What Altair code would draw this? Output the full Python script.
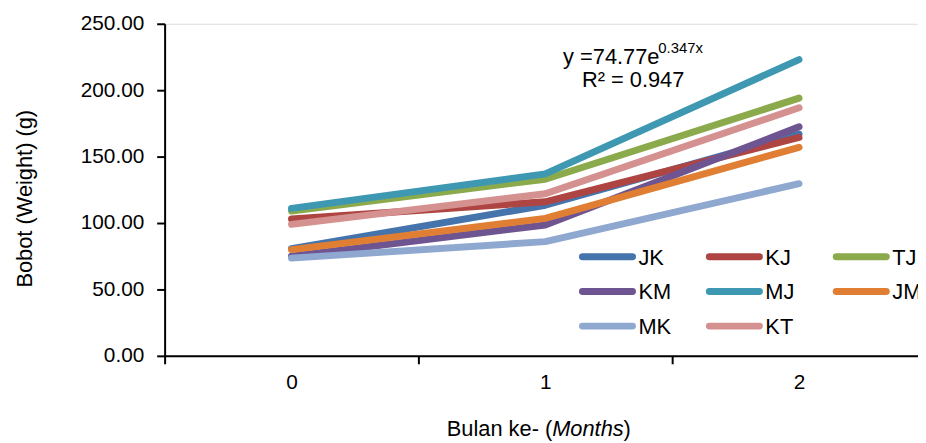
import altair as alt
import pandas as pd

months = [0, 1, 2]
series = ["JK", "KJ", "TJ", "KM", "MJ", "JM", "MK", "KT"]
colors = ["#4573AC", "#AE4542", "#8AAA4C", "#6E5592", "#3F98B1", "#E07F34", "#8FA8CF", "#D49190"]
JK = [80.6, 113.4, 167.0]
KJ = [103.0, 116.0, 164.4]
TJ = [109.0, 133.0, 194.0]
KM = [75.0, 98.5, 172.4]
MJ = [111.0, 137.0, 223.0]
JM = [80.0, 103.5, 157.0]
MK = [73.6, 86.0, 129.6]
KT = [99.0, 122.0, 186.8]
y_ticks = [0, 50, 100, 150, 200, 250]
x_ticks = [-0.5, 0.5, 1.5]

values = {"JK": JK, "KJ": KJ, "TJ": TJ, "KM": KM, "MJ": MJ, "JM": JM, "MK": MK, "KT": KT}
rows = []
for s in series:
    for m, v in zip(months, values[s]):
        rows.append({"series": s, "month": m, "weight": v})
df = pd.DataFrame(rows)

# legend entries: row-major, 3 columns
leg = pd.DataFrame({"series": series,
                    "idx": list(range(len(series)))})

FONT = "Liberation Sans"
W, H = 760, 335
color_scale = alt.Scale(domain=series, range=colors)

lines = alt.Chart(df).mark_line(strokeWidth=7, strokeCap="round", strokeJoin="round").encode(
    x=alt.X("month:Q",
            scale=alt.Scale(domain=[-0.5, 2.46875], nice=False, zero=False),
            axis=alt.Axis(values=x_ticks, labelExpr="format(datum.value + 0.5, 'd')",
                          labelOffset=128, labelFlush=False, labelBound=False,
                          title=None, tickSize=8, tickWidth=2, tickColor="black",
                          domainColor="black", domainWidth=2, grid=False,
                          labelFontSize=21, labelColor="black", labelPadding=8, labelFont=FONT)),
    y=alt.Y("weight:Q",
            scale=alt.Scale(domain=[0, 250], nice=False),
            axis=alt.Axis(values=y_ticks, format=".2f", title="Bobot (Weight) (g)",
                          titleFontSize=22, titleFontWeight="normal", titleColor="black",
                          titleFont=FONT, titleX=-141, titleY=176, titleBaseline="middle",
                          tickSize=8, tickWidth=2, tickColor="black", domainColor="black",
                          domainWidth=2, grid=False, labelFontSize=21, labelColor="black",
                          labelPadding=13, labelFont=FONT)),
    color=alt.Color("series:N", scale=color_scale, legend=None),
)

# manual legend (pixel layout of the legend box, relative to plot area)
leg_base = alt.Chart(leg).transform_calculate(
    col="datum.idx % 3",
    row="floor(datum.idx / 3)",
).transform_calculate(
    sx="421.5 + datum.col * 128",
    sx2="472 + datum.col * 128",
    tx="478 + datum.col * 128",
    sy="235 + datum.row * 35",
)
px_x = alt.Scale(domain=[0, W], range=[0, W], nice=False, zero=False)
px_y = alt.Scale(domain=[0, H], range=[0, H], nice=False, zero=False)

leg_rules = leg_base.mark_rule(strokeWidth=7, strokeCap="round").encode(
    x=alt.X("sx:Q", scale=px_x, axis=None),
    x2="sx2:Q",
    y=alt.Y("sy:Q", scale=px_y, axis=None),
    color=alt.Color("series:N", scale=color_scale, legend=None),
)
leg_text = leg_base.mark_text(align="left", baseline="middle", fontSize=22, font=FONT,
                              color="black", dy=1).encode(
    x=alt.X("tx:Q", scale=px_x, axis=None),
    y=alt.Y("sy:Q", scale=px_y, axis=None),
    text="series:N",
)
legend_layer = alt.layer(leg_rules, leg_text)

eq_main = alt.Chart(pd.DataFrame({"t": ["y =74.77e"]})).mark_text(
    align="left", baseline="alphabetic", fontSize=22, font=FONT, color="black"
).encode(x=alt.value(402), y=alt.value(41), text="t:N")

eq_sup = alt.Chart(pd.DataFrame({"t": ["0.347x"]})).mark_text(
    align="left", baseline="alphabetic", fontSize=15, font=FONT, color="black"
).encode(x=alt.value(498), y=alt.value(29), text="t:N")

eq_r2 = alt.Chart(pd.DataFrame({"t": ["R\u00b2 = 0.947"]})).mark_text(
    align="left", baseline="alphabetic", fontSize=22, font=FONT, color="black"
).encode(x=alt.value(421), y=alt.value(64), text="t:N")

xt1 = alt.Chart(pd.DataFrame({"t": ["Bulan ke- ("]})).mark_text(
    align="right", baseline="alphabetic", fontSize=22, font=FONT, color="black"
).encode(x=alt.value(391), y=alt.value(416), text="t:N")

xt2 = alt.Chart(pd.DataFrame({"t": ["Months"]})).mark_text(
    align="left", baseline="alphabetic", fontSize=22, font=FONT, fontStyle="italic", color="black"
).encode(x=alt.value(391), y=alt.value(416), text="t:N")

xt3 = alt.Chart(pd.DataFrame({"t": [")"]})).mark_text(
    align="left", baseline="alphabetic", fontSize=22, font=FONT, color="black"
).encode(x=alt.value(463), y=alt.value(416), text="t:N")

main = alt.layer(lines, eq_main, eq_sup, eq_r2, xt1, xt2, xt3)

chart = alt.layer(main, legend_layer).resolve_scale(
    x="independent", y="independent"
).properties(
    width=W, height=H,
    autosize=alt.AutoSizeParams(type="none"),
    padding={"left": 158, "top": 14, "right": 0, "bottom": 86},
).configure_view(stroke="transparent").configure(font=FONT)

chart.save("out.html", embed_options={"renderer": "svg", "actions": False})
